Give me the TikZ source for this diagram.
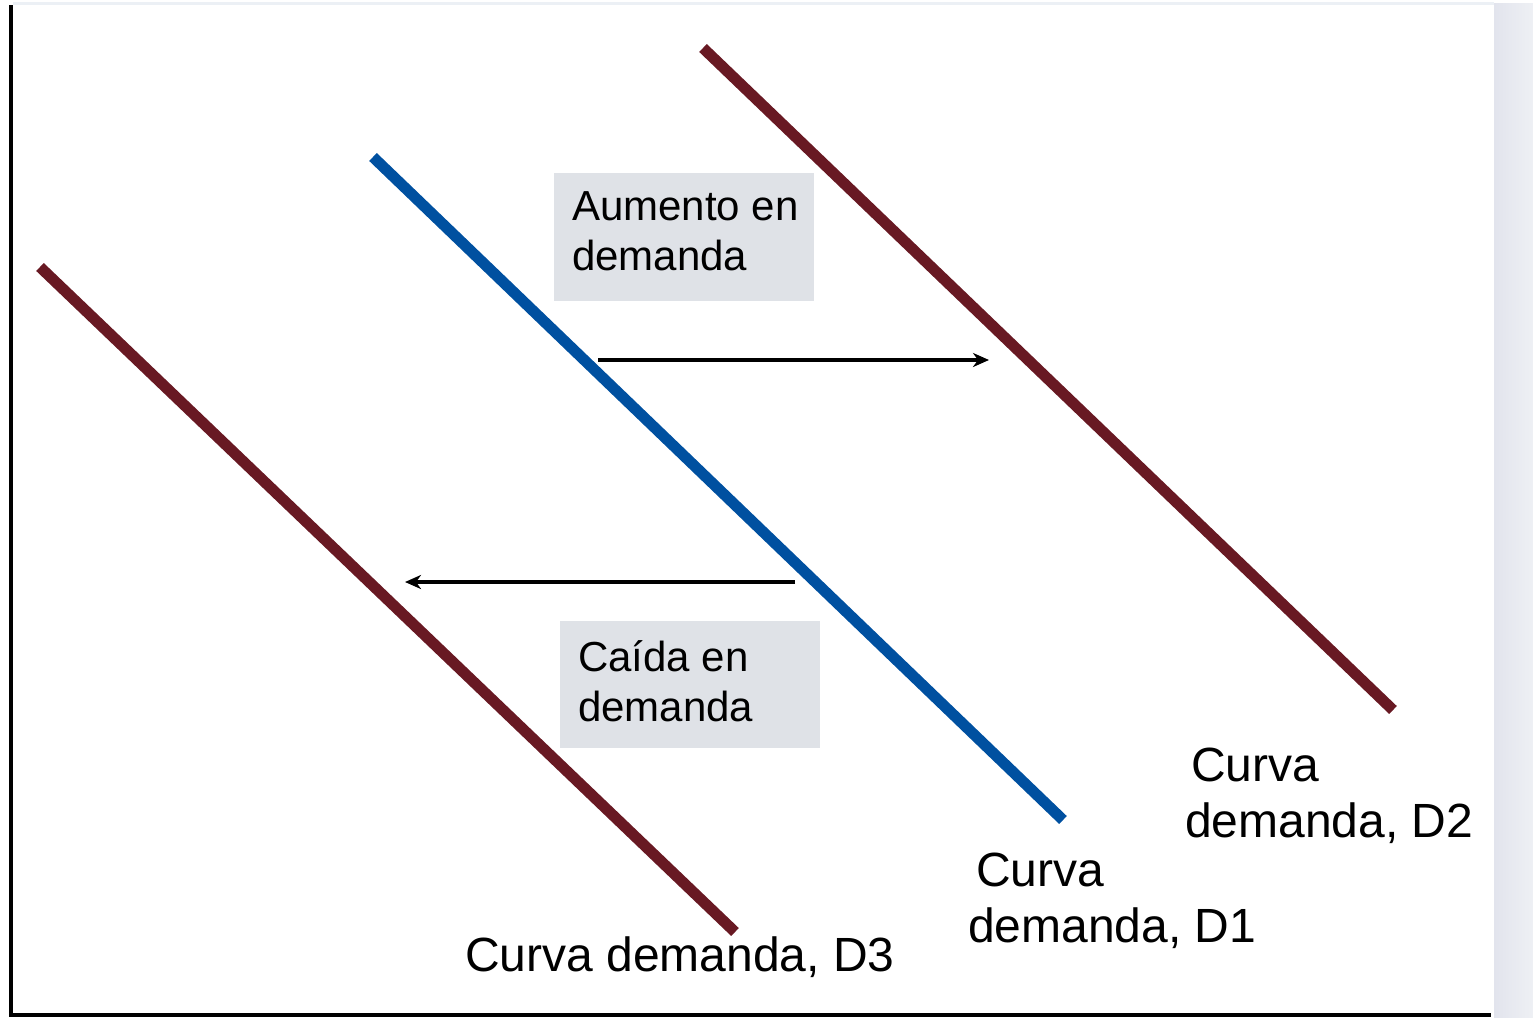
\documentclass[tikz,border=0pt]{standalone}
\usepackage{fontspec}
\setmainfont{Liberation Sans}
\usetikzlibrary{arrows.meta}
\definecolor{curvered}{RGB}{104,25,35}
\definecolor{curveblue}{RGB}{0,80,160}
\definecolor{boxgray}{RGB}{223,226,231}
\definecolor{bandleft}{RGB}{226,228,237}
\definecolor{bandright}{RGB}{238,240,244}
\definecolor{topline}{RGB}{236,240,245}
\tikzset{
  curve/.style={line width=11pt},
  axisline/.style={line width=4pt, black},
  shiftarrow/.style={line width=3.5pt, -{Stealth[length=16pt,width=14pt,inset=5pt]}},
  shadebox/.style={fill=boxgray, inner sep=0pt, anchor=north west},
  boxtext/.style={font=\fontsize{42}{50}\selectfont, align=left, inner sep=0pt, anchor=north west},
  curvelabel/.style={font=\fontsize{48}{56}\selectfont, align=left, inner sep=0pt, anchor=north west}
}
\begin{document}
\begin{tikzpicture}[x=1pt,y=-1pt]
\useasboundingbox (0,0) rectangle (1533,1017);
% background band at right
\shade[left color=bandleft, right color=bandright] (1494,3) rectangle (1533,1017);
\draw[topline, line width=3pt] (13,3.5) -- (1494,3.5);
% axes
\coordinate (O) at (10.5,1014.5);
\coordinate (ytop) at (10.5,5);
\coordinate (xend) at (1491,1014.5);
\draw[axisline] (ytop) -- (O) -- (xend);
% demand curves
\coordinate (d2a) at (703,48);   \coordinate (d2b) at (1393,710);
\coordinate (d1a) at (373,157);  \coordinate (d1b) at (1063,820);
\coordinate (d3a) at (40,267);   \coordinate (d3b) at (735,932);
\draw[curve, curvered] (d2a) -- (d2b);
\draw[curve, curveblue] (d1a) -- (d1b);
\draw[curve, curvered] (d3a) -- (d3b);
% boxes
\node[shadebox, minimum width=260pt, minimum height=128pt] (upbox) at (554,173) {};
\node[boxtext] (uptext) at (572,191) {Aumento en\\demanda};
\node[shadebox, minimum width=260pt, minimum height=127pt] (downbox) at (560,621) {};
\node[boxtext] (downtext) at (578,640) {Caída en\\demanda};
% arrows
\coordinate (ua) at (598,360); \coordinate (ub) at (989,360);
\coordinate (da) at (795,582); \coordinate (db) at (405,582);
\draw[shiftarrow] (ua) -- (ub);
\draw[shiftarrow] (da) -- (db);
% labels
\node[curvelabel] (l2) at (1185,748) {\hspace*{6pt}Curva\\demanda, D2};
\node[curvelabel] (l1) at (968,853) {\hspace*{8pt}Curva\\demanda, D1};
\node[curvelabel, anchor=base west] (l3) at (465,971) {Curva demanda, D3};
\end{tikzpicture}
\end{document}
